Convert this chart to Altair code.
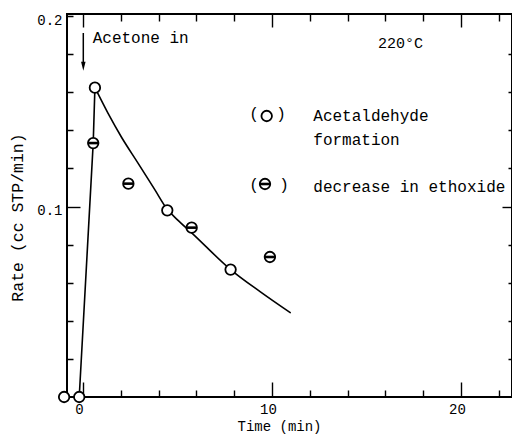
import altair as alt
import pandas as pd

# ---- data ----
acet_t = [-1.0, -0.2, 0.63, 4.46, 7.81]
acet_r = [0.0, 0.0, 0.1624, 0.0980, 0.0669]
etho_t = [0.54, 2.40, 5.75, 9.89]
etho_r = [0.1333, 0.1120, 0.0889, 0.0735]
rise_t = [-0.2, 0.54, 0.63]
rise_r = [0.0, 0.1333, 0.1624]
decay_t = [0.63, 1.32, 2.03, 2.91, 3.79, 4.46, 5.00, 5.75, 7.81, 9.37, 10.99]
decay_r = [0.1624, 0.1490, 0.1365, 0.1228, 0.1090, 0.0985, 0.0930, 0.0862, 0.0669, 0.0553, 0.0441]

xt_big = [0, 10, 20]
xt_small = [2, 4, 6, 8, 12, 14, 16, 18, 22]
yt_big = [0.1]
yt_small = [0.02, 0.04, 0.06, 0.08, 0.12, 0.14, 0.16, 0.18]
x_labels = [0, 10, 20]
y_labels = [0.1, 0.2]

FONT = "Liberation Mono"
W, H = 445, 383
X_DOM = [-0.847, 22.70]
Y_DOM = [0.0, 0.20105]

acet = pd.DataFrame({"t": acet_t, "r": acet_r})
etho = pd.DataFrame({"t": etho_t, "r": etho_r})
rise = pd.DataFrame({"t": rise_t, "r": rise_r})
decay = pd.DataFrame({"t": decay_t, "r": decay_r})
one = pd.DataFrame({"k": [0]})

xs = alt.Scale(domain=X_DOM, nice=False, zero=False)
ys = alt.Scale(domain=Y_DOM, nice=False, zero=False)

x_all = sorted(xt_big + xt_small)
y_all = sorted(set(yt_big + yt_small + y_labels))

x_is_minor = "datum.value % 10 != 0"
y_is_minor = "abs(datum.value - 0.1) > 0.000001"
solid = [30, 0]

# bottom axis: labels + inward ticks (axis line pulled inside by the tick length)
xaxis_main = alt.Axis(
    values=x_all, ticks=True, tickSize=15, tickWidth=1.4, tickColor="black",
    tickDash={"condition": {"test": x_is_minor, "value": [0, 8, 7, 0]}, "value": solid},
    offset=-15, domain=False, grid=False,
    labelExpr="datum.value % 10 == 0 ? datum.label : ''",
    labelFont=FONT, labelFontSize=14, labelColor="black",
    labelPadding=5, labelOffset=-4,
    title="Time (min)", titleFont=FONT, titleFontSize=14,
    titleFontWeight="normal", titleColor="black",
    titleX=212, titleY=48, titleBaseline="alphabetic",
    titleAlign="center", titleAnchor="start")

yaxis_main = alt.Axis(
    values=y_all, ticks=True, tickSize=13, tickWidth=1.4, tickColor="black",
    tickDash={"condition": {"test": y_is_minor, "value": [0, 7, 6, 0]}, "value": solid},
    offset=-13, domain=False, grid=False,
    labelExpr="(abs(datum.value - 0.1) < 0.000001 || abs(datum.value - 0.2) < 0.000001)"
              " ? format(datum.value, '.1f') : ''",
    labelFont=FONT, labelFontSize=14, labelColor="black",
    labelPadding=5, labelOffset=4,
    title="Rate (cc STP/min)", titleFont=FONT, titleFontSize=16.5,
    titleFontWeight="normal", titleColor="black",
    titleX=-62.5, titleY=203, titleBaseline="middle",
    titleAlign="center", titleAnchor="start", titleAngle=270)

xaxis_top = alt.Axis(
    orient="top", values=x_all, ticks=True, tickSize=13, tickWidth=1.4, tickColor="black",
    tickDash={"condition": {"test": x_is_minor, "value": [0, 6, 7, 0]}, "value": solid},
    offset=-13, domain=False, grid=False, labels=False, title=None)

yaxis_right = alt.Axis(
    orient="right", values=[v for v in y_all if v < 0.19], ticks=True, tickSize=10,
    tickWidth=1.4, tickColor="black",
    tickDash={"condition": {"test": y_is_minor, "value": [0, 6, 4, 0]}, "value": solid},
    offset=-10, domain=False, grid=False, labels=False, title=None)

XM = alt.X("t:Q", scale=xs, axis=xaxis_main)
YM = alt.Y("r:Q", scale=ys, axis=yaxis_main)
XN = alt.X("t:Q", scale=xs, axis=None)
YN = alt.Y("r:Q", scale=ys, axis=None)

rise_line = alt.Chart(rise).mark_line(color="black", strokeWidth=1.6).encode(x=XM, y=YM)
decay_line = alt.Chart(decay).mark_line(color="black", strokeWidth=1.6,
                                        interpolate="monotone").encode(x=XN, y=YN)

frame_axes = alt.Chart(acet).mark_point(opacity=0).encode(
    x=alt.X("t:Q", scale=xs, axis=xaxis_top),
    y=alt.Y("r:Q", scale=ys, axis=yaxis_right))

acet_pts = alt.Chart(acet).mark_point(shape="circle", filled=False, stroke="black",
                                      fill="white", strokeWidth=1.8, size=110,
                                      opacity=1).encode(x=XN, y=YN)
etho_pts = alt.Chart(etho).mark_point(shape="circle", filled=False, stroke="black",
                                      fill="white", strokeWidth=1.8, size=110,
                                      opacity=1).encode(x=XN, y=YN)
etho_bar = alt.Chart(etho).mark_point(shape="stroke", stroke="black", strokeWidth=2.6,
                                      size=110, opacity=1).encode(x=XN, y=YN)


def label(txt, x, y, size=16, align="left", baseline="alphabetic"):
    return alt.Chart(one).mark_text(font=FONT, fontSize=size, color="black",
                                    align=align, baseline=baseline).encode(
        x=alt.value(x), y=alt.value(y), text=alt.value(txt))


texts = [
    label("Acetone in", 25.7, 28.7),
    label("220°C", 311, 34.3, size=15),
    label("Acetaldehyde", 246.3, 107),
    label("formation", 246.3, 131),
    label("decrease in ethoxide", 246.3, 177.7),
    label("(", 187, 105, align="center"),
    label(")", 214, 105, align="center"),
    label("(", 187, 176, align="center"),
    label(")", 217, 176, align="center"),
]

leg_circ = alt.Chart(one).mark_point(shape="circle", filled=False, stroke="black",
                                     strokeWidth=1.8, size=110, opacity=1).encode(
    x=alt.value(199.7), y=alt.value(102))
leg_theta = alt.Chart(one).mark_point(shape="circle", filled=False, stroke="black",
                                      strokeWidth=1.8, size=110, opacity=1).encode(
    x=alt.value(198), y=alt.value(170))
leg_bar = alt.Chart(one).mark_point(shape="stroke", stroke="black", strokeWidth=2.6,
                                    size=110, opacity=1).encode(
    x=alt.value(198), y=alt.value(170))

arrow_shaft = alt.Chart(one).mark_rule(color="black", strokeWidth=1.5).encode(
    x=alt.value(16.3), y=alt.value(19), y2=alt.value(51))
arrow_head = alt.Chart(one).mark_point(shape="M0,1 L-0.5,-1 L0.5,-1 Z", filled=True,
                                       color="black", size=81, opacity=1).encode(
    x=alt.value(16.3), y=alt.value(52.2))

chart = alt.layer(
    rise_line, frame_axes, decay_line, acet_pts, etho_pts, etho_bar,
    *texts, leg_circ, leg_theta, leg_bar, arrow_shaft, arrow_head,
).resolve_axis(
    x="independent", y="independent"
).properties(
    width=W, height=H,
    autosize=alt.AutoSizeParams(type="none"),
    padding={"left": 67, "top": 14, "right": 0, "bottom": 41},
    background="white",
).configure_view(stroke="black", strokeWidth=2)

chart.save("out.html", embed_options={"renderer": "svg", "actions": False})
